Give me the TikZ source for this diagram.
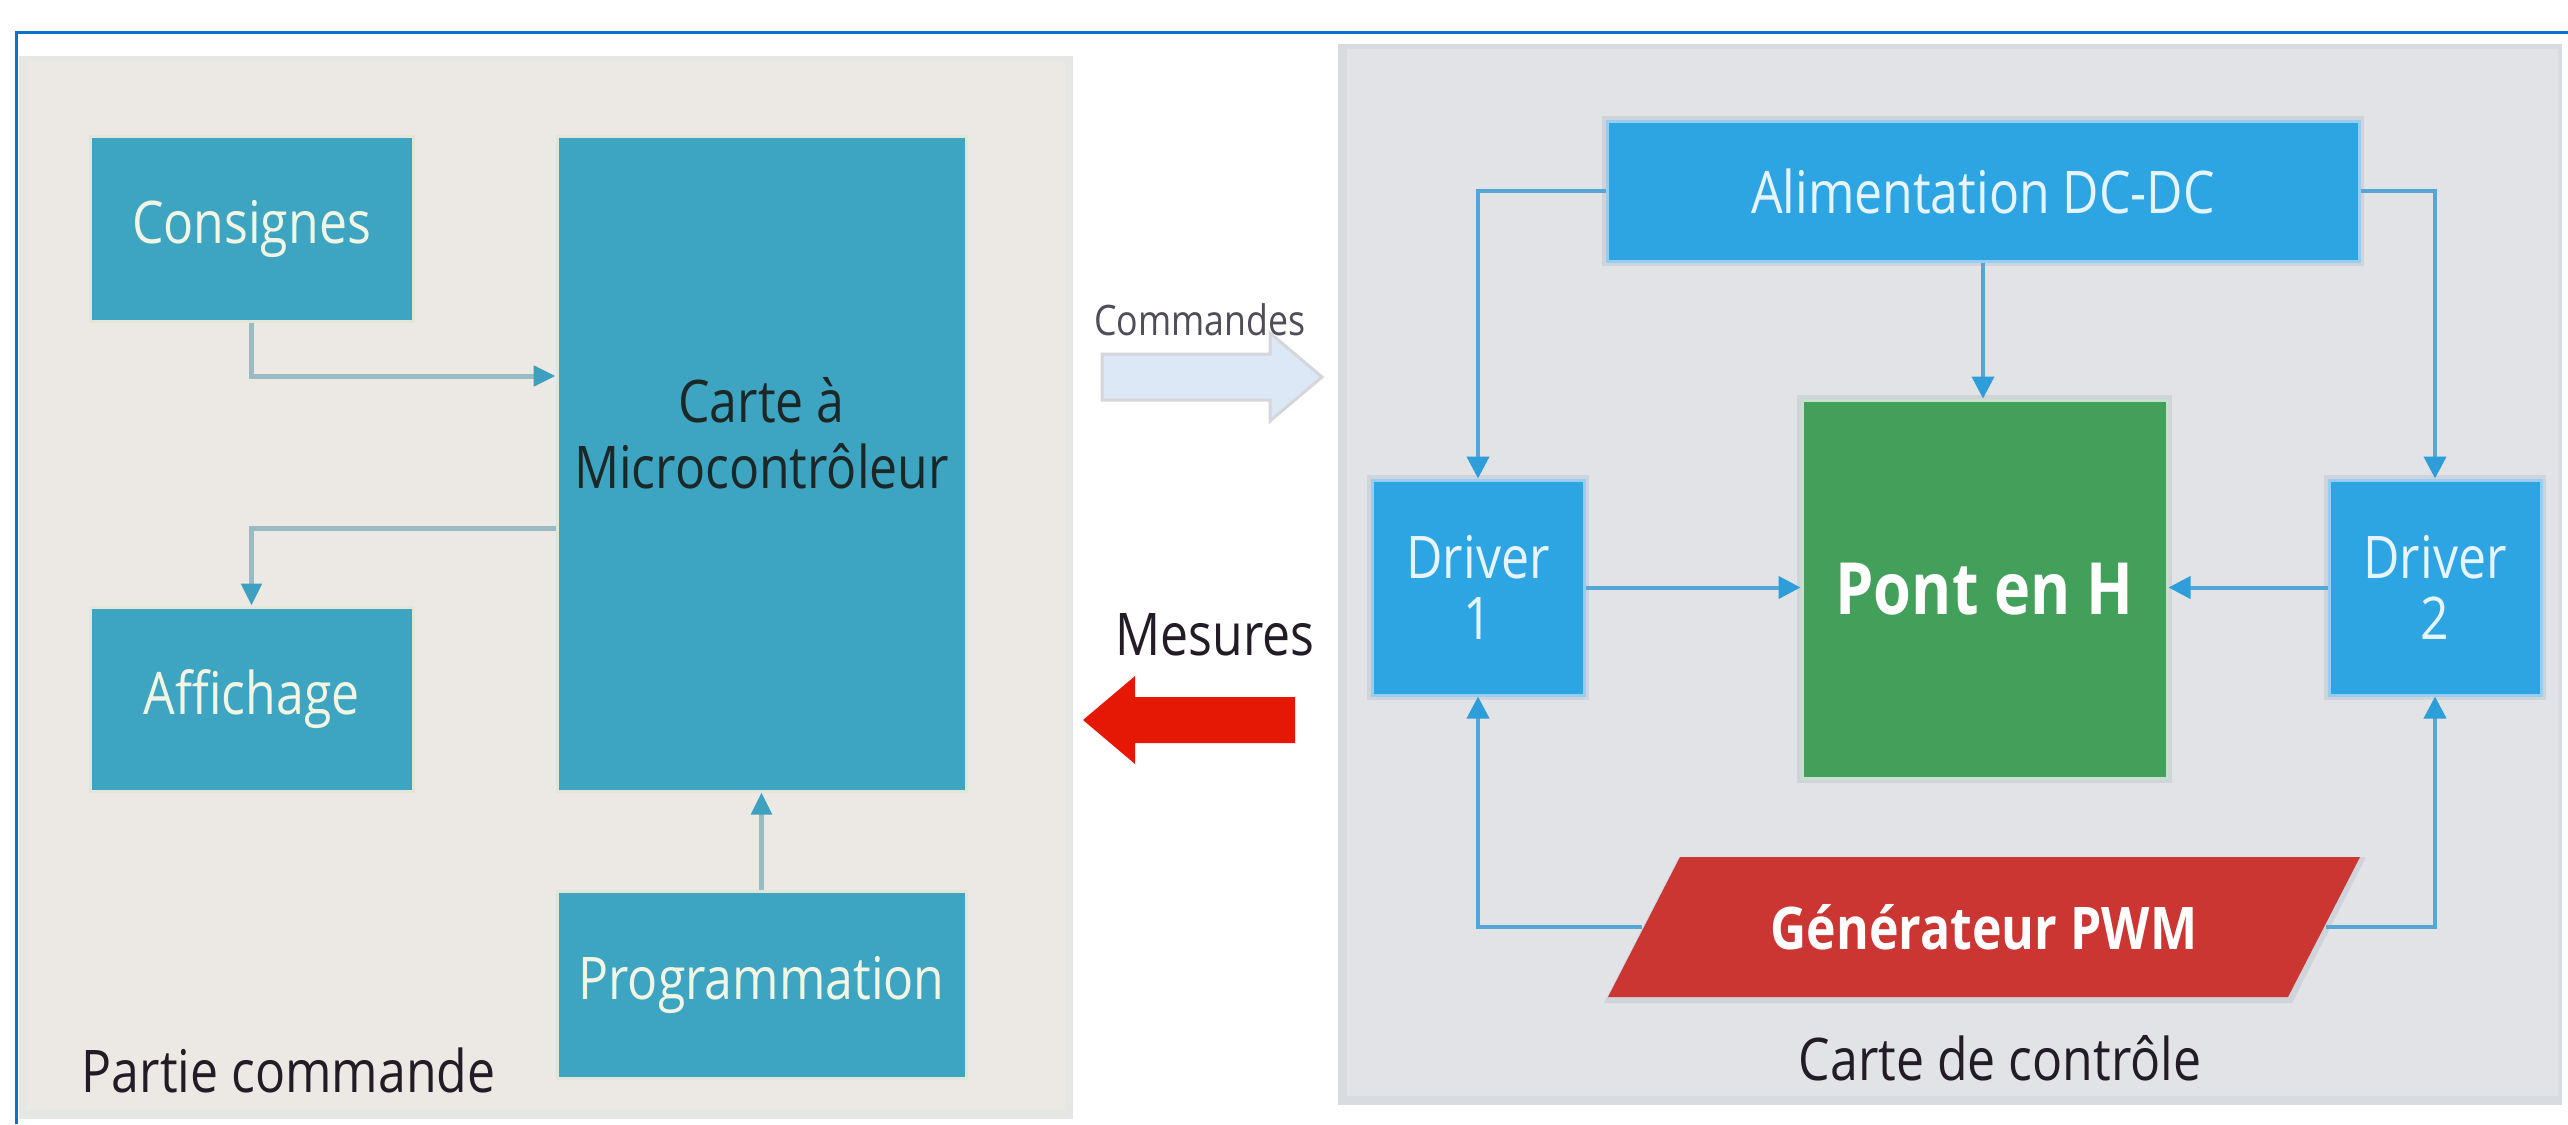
\documentclass[tikz,border=0pt]{standalone}
\usepackage{fontspec}
\setmainfont{Open Sans}[FakeStretch=0.85]
\usetikzlibrary{arrows.meta,calc}
\definecolor{frameblue}{RGB}{11,114,204}
\definecolor{lpanel}{RGB}{236,233,228}
\definecolor{lpanelsh}{RGB}{229,231,228}
\definecolor{rpanel}{RGB}{225,227,231}
\definecolor{rpanelsh}{RGB}{216,220,224}
\definecolor{lteal}{RGB}{61,165,194}
\definecolor{lbord}{RGB}{226,230,214}
\definecolor{ltext}{RGB}{240,245,228}
\definecolor{dtext}{RGB}{28,40,40}
\definecolor{lline}{RGB}{152,188,194}
\definecolor{lhead}{RGB}{61,160,190}
\definecolor{rblue}{RGB}{45,165,226}
\definecolor{rbord}{RGB}{150,205,240}
\definecolor{rtext}{RGB}{230,244,255}
\definecolor{rline}{RGB}{84,166,214}
\definecolor{rhead}{RGB}{45,158,218}
\definecolor{pgreen}{RGB}{67,160,91}
\definecolor{pgreenb}{RGB}{200,225,205}
\definecolor{pwmred}{RGB}{203,53,50}
\definecolor{arrred}{RGB}{228,24,4}
\definecolor{arrlight}{RGB}{220,232,246}
\definecolor{arrlightb}{RGB}{212,214,218}
\definecolor{labeltext}{RGB}{35,28,38}
\definecolor{boxshadow}{RGB}{206,212,217}
\newcommand\pxu{0.25pt}
\newcommand\mainsz{\fontsize{14.7}{15.25}\selectfont}
\tikzset{
  lbox/.style={rectangle, fill=lteal, draw=lbord, line width=0.75pt, inner sep=0pt, text=ltext, font=\mainsz, align=center},
  rbox/.style={rectangle, fill=rblue, draw=rbord, line width=0.75pt, inner sep=0pt, text=rtext, font=\mainsz, align=center,
    preaction={draw=boxshadow, line width=2.5pt}},
  larrow/.style={draw=lline, line width=1.25pt, -{Triangle[width=5pt,length=5.5pt,color=lhead]}},
  rarrow/.style={draw=rline, line width=1pt, -{Triangle[width=5.5pt,length=5.5pt,color=rhead]}},
  plainlabel/.style={inner sep=0pt, text=labeltext, font=\mainsz},
}
\begin{document}
\begin{tikzpicture}[x=0.25pt,y=-0.25pt]
\useasboundingbox (0,0) rectangle (2568,1124);
\fill[white] (0,0) rectangle (2568,1124);
% outer frame
\draw[frameblue, line width=0.75pt] (16,1124) -- (16,32) -- (2568,32);
% panels
\fill[lpanelsh] (19,56) rectangle (1073,1119);
\fill[lpanel] (27,61) rectangle (1065,1110);
\fill[rpanelsh] (1338,44) rectangle (2562,1105);
\fill[rpanel] (1347,49) rectangle (2558,1096);

% left part
\node[lbox, minimum width=323*\pxu, minimum height=185*\pxu] (cons) at (251.5,228.5) {Consignes};
\node[lbox, minimum width=409*\pxu, minimum height=655*\pxu] (carte) at (761.5,463.5) {};
\node[inner sep=0pt, text=dtext, font=\fontsize{14.7}{16.5}\selectfont, align=center] (cartetxt) at (761.5,433) {Carte à\\Microcontrôleur};
\node[lbox, minimum width=323*\pxu, minimum height=184*\pxu] (affich) at (251.5,699) {Affichage};
\node[lbox, minimum width=409*\pxu, minimum height=187*\pxu] (prog) at (761.5,984.5) {Programmation};
\node[plainlabel, anchor=base west] (partie) at (81,1092) {Partie commande};

\coordinate (c1) at (0,376);
\coordinate (c2) at (0,528);
\draw[larrow] (cons.south) |- (carte.west |- c1);
\draw[larrow] (carte.west |- c2) -| (affich.north);
\draw[larrow] (prog.north) -- (carte.south);

% middle arrows
\filldraw[fill=arrlight, draw=arrlightb, line width=0.75pt]
  (1102,354) -- (1270,354) -- (1270,333) -- (1322,377) -- (1270,421) -- (1270,400) -- (1102,400) -- cycle;
\node[inner sep=0pt, text={rgb,255:red,80;green,76;blue,88}, font=\fontsize{10.5}{12}\selectfont, anchor=base] (cmdlabel) at (1200,335) {Commandes};
\fill[arrred]
  (1295,697) -- (1135,697) -- (1135,676) -- (1083,720) -- (1135,764) -- (1135,743) -- (1295,743) -- cycle;
\node[plainlabel, anchor=base west] (meslabel) at (1115,655) {Mesures};

% right part
\node[rbox, minimum width=752*\pxu, minimum height=140*\pxu] (alim) at (1983,191) {Alimentation DC-DC};
\node[rbox, fill=pgreen, draw=pgreenb, minimum width=365*\pxu, minimum height=378*\pxu, text=white, font=\bfseries\fontsize{18}{20}\selectfont] (pont) at (1984.5,589) {Pont en H};
\node[rbox, minimum width=212*\pxu, minimum height=215*\pxu] (drv1) at (1478,587.5) {Driver\\1};
\node[rbox, minimum width=212*\pxu, minimum height=215*\pxu] (drv2) at (2435,587.5) {Driver\\2};
\fill[boxshadow] (1604,1003) -- (1679,857) -- (2366,857) -- (2292,1003) -- cycle;
\fill[pwmred] (1608,997) -- (1680,857) -- (2360,857) -- (2288,997) -- cycle;
\node[inner sep=0pt, text=white, font=\bfseries\mainsz] (pwm) at (1984,927) {Générateur PWM};
\coordinate (pwmL) at (1642,927);
\coordinate (pwmR) at (2326,927);
\node[plainlabel, anchor=base] (cartectl) at (2000,1080) {Carte de contrôle};

\draw[rarrow] (alim.west) -| (drv1.north);
\draw[rarrow] (alim.east) -| (drv2.north);
\draw[rarrow] (alim.south) -- (alim.south |- pont.north);
\draw[rarrow] (drv1.east) -- (drv1.east -| pont.west);
\draw[rarrow] (drv2.west) -- (drv2.west -| pont.east);
\draw[rarrow] (pwmL) -| (drv1.south);
\draw[rarrow] (pwmR) -| (drv2.south);
\end{tikzpicture}
\end{document}
